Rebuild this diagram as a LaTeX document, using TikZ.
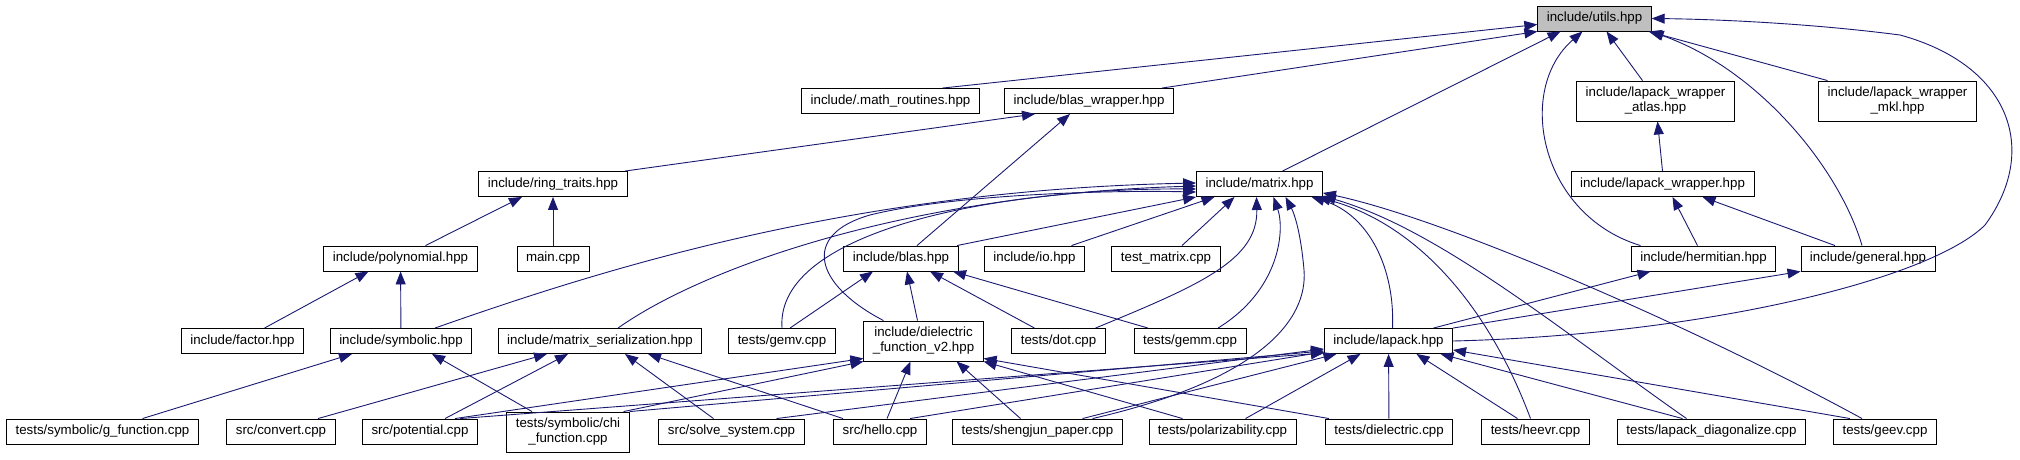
\documentclass[tikz,border=0pt]{standalone}
\usepackage{fontspec}
\setmainfont{Liberation Sans}
\usepackage{tikz}
\usetikzlibrary{arrows.meta}
\definecolor{edgeblue}{HTML}{191970}
\definecolor{rootgray}{HTML}{BFBFBF}

\begin{document}
\begin{tikzpicture}[x=1pt, y=-1pt, font=\fontsize{13.3}{15}\selectfont,
  box/.style={draw=black, line width=0.9pt, fill=white, inner xsep=9pt, inner ysep=3pt, minimum height=25pt},
  twoline/.style={box, align=center, minimum height=40pt},
  edge/.style={draw=edgeblue, line width=0.9pt, -{Triangle[length=13pt, width=10pt]}}]
  \useasboundingbox (0,0) rectangle (2020,459);
  % rows top to bottom, pixel coordinates of the reference
  \node[box, fill=rootgray] (utils) at (1594.5,18.5) {include/utils.hpp};
  \node[box] (mathr) at (890.5,101) {include/.math\_routines.hpp};
  \node[box] (blasw) at (1089,101) {include/blas\_wrapper.hpp};
  \node[twoline] (atlas) at (1655.5,101) {include/lapack\_wrapper\\\_atlas.hpp};
  \node[twoline] (mkl) at (1897.5,101) {include/lapack\_wrapper\\\_mkl.hpp};
  \node[box] (ring) at (553,184) {include/ring\_traits.hpp};
  \node[box] (matrix) at (1259.5,184) {include/matrix.hpp};
  \node[box] (lapw) at (1662.5,184) {include/lapack\_wrapper.hpp};
  \node[box] (poly) at (400.5,258.5) {include/polynomial.hpp};
  \node[box] (mainc) at (553,258.5) {main.cpp};
  \node[box] (blas) at (901,258.5) {include/blas.hpp};
  \node[box] (io) at (1034.5,258.5) {include/io.hpp};
  \node[box] (tmat) at (1166,258.5) {test\_matrix.cpp};
  \node[box] (herm) at (1703.5,258.5) {include/hermitian.hpp};
  \node[box] (general) at (1868,258.5) {include/general.hpp};
  \node[box] (factor) at (242.5,341) {include/factor.hpp};
  \node[box] (symb) at (401,341) {include/symbolic.hpp};
  \node[box] (mser) at (600,341) {include/matrix\_serialization.hpp};
  \node[box] (gemv) at (782,341) {tests/gemv.cpp};
  \node[twoline] (diel) at (923.5,341) {include/dielectric\\\_function\_v2.hpp};
  \node[box] (dot) at (1058.5,341) {tests/dot.cpp};
  \node[box] (gemm) at (1190,341) {tests/gemm.cpp};
  \node[box] (lapack) at (1388.5,341) {include/lapack.hpp};
  \node[box] (gfunc) at (102.5,431.5) {tests/symbolic/g\_function.cpp};
  \node[box] (convert) at (281,431.5) {src/convert.cpp};
  \node[box] (pot) at (420,431.5) {src/potential.cpp};
  \node[twoline] (chi) at (568,432) {tests/symbolic/chi\\\_function.cpp};
  \node[box] (solve) at (731.5,431.5) {src/solve\_system.cpp};
  \node[box] (hello) at (880,431.5) {src/hello.cpp};
  \node[box] (sheng) at (1037.5,431.5) {tests/shengjun\_paper.cpp};
  \node[box] (polar) at (1222.5,431.5) {tests/polarizability.cpp};
  \node[box] (tdiel) at (1389,431.5) {tests/dielectric.cpp};
  \node[box] (heevr) at (1535.5,431.5) {tests/heevr.cpp};
  \node[box] (ldiag) at (1711.5,431.5) {tests/lapack\_diagonalize.cpp};
  \node[box] (geev) at (1885,431.5) {tests/geev.cpp};
  % into utils
  \draw[edge] ([xshift=52pt]mathr.north) -- ([yshift=-6pt]utils.west);
  \draw[edge] ([xshift=73pt]blasw.north) -- (utils.south west);
  \draw[edge] ([xshift=23pt]matrix.north) -- ([xshift=-34pt]utils.south);
  \draw[edge] ([xshift=-13pt]atlas.north) -- ([xshift=12pt]utils.south);
  \draw[edge] ([xshift=-70pt]mkl.north) -- ([xshift=-3pt]utils.south east);
  \draw[edge] ([xshift=-63pt]herm.north) .. controls (1540,215) and (1515,90) .. ([xshift=-12pt]utils.south);
  \draw[edge] ([xshift=-6pt]general.north) .. controls (1840,170) and (1760,70) .. ([xshift=-1pt]utils.south east);
  \draw[edge] (lapack.east) .. controls (1700,335) and (1930,280) .. (1985,225)
    .. controls (2040,150) and (2010,65) .. (1900,35) .. controls (1800,22) and (1700,19) .. (utils.east);
  % wrappers, ring traits, polynomial
  \draw[edge] ([xshift=72pt]ring.north) -- ([xshift=-54pt]blasw.south);
  \draw[edge] ([xshift=16pt]blas.north) -- ([xshift=-19pt]blasw.south);
  \draw[edge] (lapw.north) -- ([xshift=2pt]atlas.south);
  \draw[edge] ([xshift=-6pt]herm.north) -- ([xshift=10pt]lapw.south);
  \draw[edge] ([xshift=-33pt]general.north) -- ([xshift=40pt]lapw.south);
  \draw[edge] ([xshift=25pt]poly.north) -- ([xshift=-31pt]ring.south);
  \draw[edge] (mainc) -- (ring);
  \draw[edge] ([xshift=22pt]factor.north) -- ([xshift=-32pt]poly.south);
  \draw[edge] (symb) -- (poly);
  % into matrix
  \draw[edge] ([xshift=56pt]blas.north) -- (matrix.south west);
  \draw[edge] ([xshift=37pt]io.north) -- ([xshift=-45pt]matrix.south);
  \draw[edge] ([xshift=16pt]tmat.north) -- ([xshift=-25pt]matrix.south);
  \draw[edge] ([xshift=34pt]symb.north) .. controls (600,270) and (850,190) .. ([yshift=1pt]matrix.west);
  \draw[edge] ([xshift=18pt]mser.north) .. controls (700,270) and (900,195) .. ([yshift=-2pt]matrix.west);
  \draw[edge] (gemv.north) .. controls (775,230) and (1000,188) .. ([yshift=-5pt]matrix.west);
  \draw[edge] ([xshift=-40pt]diel.north) .. controls (815,285) and (800,235) .. (870,215)
    .. controls (950,195) and (1100,190) .. ([yshift=-8pt]matrix.west);
  \draw[edge] ([xshift=37pt]dot.north) .. controls (1200,285) and (1258,260) .. ([xshift=-3pt]matrix.south);
  \draw[edge] ([xshift=28pt]gemm.north) .. controls (1280,290) and (1285,230) .. ([xshift=14pt]matrix.south);
  \draw[edge] ([xshift=55pt]sheng.north) .. controls (1260,380) and (1308,320) .. (1304,270)
    .. controls (1301,235) and (1295,215) .. ([xshift=26pt]matrix.south);
  \draw[edge] ([xshift=4pt]lapack.north) .. controls (1395,270) and (1370,215) .. ([xshift=52pt]matrix.south);
  \draw[edge] ([xshift=-5pt]heevr.north) .. controls (1490,310) and (1420,225) .. ([xshift=58pt]matrix.south);
  \draw[edge] ([xshift=-25pt]ldiag.north) .. controls (1560,330) and (1440,230) .. ([yshift=1pt]matrix.south east);
  \draw[edge] ([xshift=-23pt]geev.north) .. controls (1700,330) and (1450,220) .. ([yshift=4pt]matrix.south east);
  % into blas
  \draw[edge] ([xshift=8pt]gemv.north) -- ([xshift=-28pt]blas.south);
  \draw[edge] ([xshift=-6pt]diel.north) -- ([xshift=6pt]blas.south);
  \draw[edge] ([xshift=-24pt]dot.north) -- ([xshift=29pt]blas.south);
  \draw[edge] ([xshift=-42pt]gemm.north) -- ([xshift=52pt]blas.south);
  % symbolic, matrix_serialization
  \draw[edge] ([xshift=40pt]gfunc.north) -- ([xshift=-49pt]symb.south);
  \draw[edge] ([xshift=-36pt]chi.north) -- ([xshift=31pt]symb.south);
  \draw[edge] ([xshift=37pt]convert.north) -- ([xshift=-53pt]mser.south);
  \draw[edge] ([xshift=25pt]pot.north) -- ([xshift=-32pt]mser.south);
  \draw[edge] ([xshift=-18pt]solve.north) -- ([xshift=25pt]mser.south);
  \draw[edge] ([xshift=-37pt]hello.north) -- ([xshift=48pt]mser.south);
  % dielectric_function_v2
  \draw[edge] ([xshift=35pt]pot.north) -- ([yshift=3pt]diel.south west);
  \draw[edge] ([xshift=-6pt]chi.north east) -- (diel.south west);
  \draw[edge] ([xshift=7pt]hello.north) -- ([xshift=-13pt]diel.south);
  \draw[edge] ([xshift=-17pt]sheng.north) -- ([xshift=33pt]diel.south);
  \draw[edge] ([xshift=-40pt]polar.north) -- (diel.south east);
  \draw[edge] ([xshift=-60pt]tdiel.north) -- ([yshift=3pt]diel.south east);
  % lapack
  \draw[edge] ([xshift=40pt]pot.north) -- ([yshift=1pt]lapack.south west);
  \draw[edge] (chi.north east) -- ([yshift=3pt]lapack.south west);
  \draw[edge] ([xshift=45pt]solve.north) -- ([yshift=5pt]lapack.south west);
  \draw[edge] ([xshift=30pt]hello.north) -- ([yshift=2pt]lapack.south west);
  \draw[edge] ([xshift=45pt]sheng.north) -- ([xshift=-52pt]lapack.south);
  \draw[edge] ([xshift=23pt]polar.north) -- ([xshift=-28pt]lapack.south);
  \draw[edge] (tdiel) -- (lapack);
  \draw[edge] ([xshift=-18pt]heevr.north) -- ([xshift=28pt]lapack.south);
  \draw[edge] ([xshift=-29pt]ldiag.north) -- ([xshift=52pt]lapack.south);
  \draw[edge] ([xshift=-35pt]geev.north) -- ([yshift=4pt]lapack.south east);
  \draw[edge] ([xshift=45pt]lapack.north) -- ([xshift=-53pt]herm.south);
  \draw[edge] (lapack.north east) -- (general.south west);
\end{tikzpicture}
\end{document}
